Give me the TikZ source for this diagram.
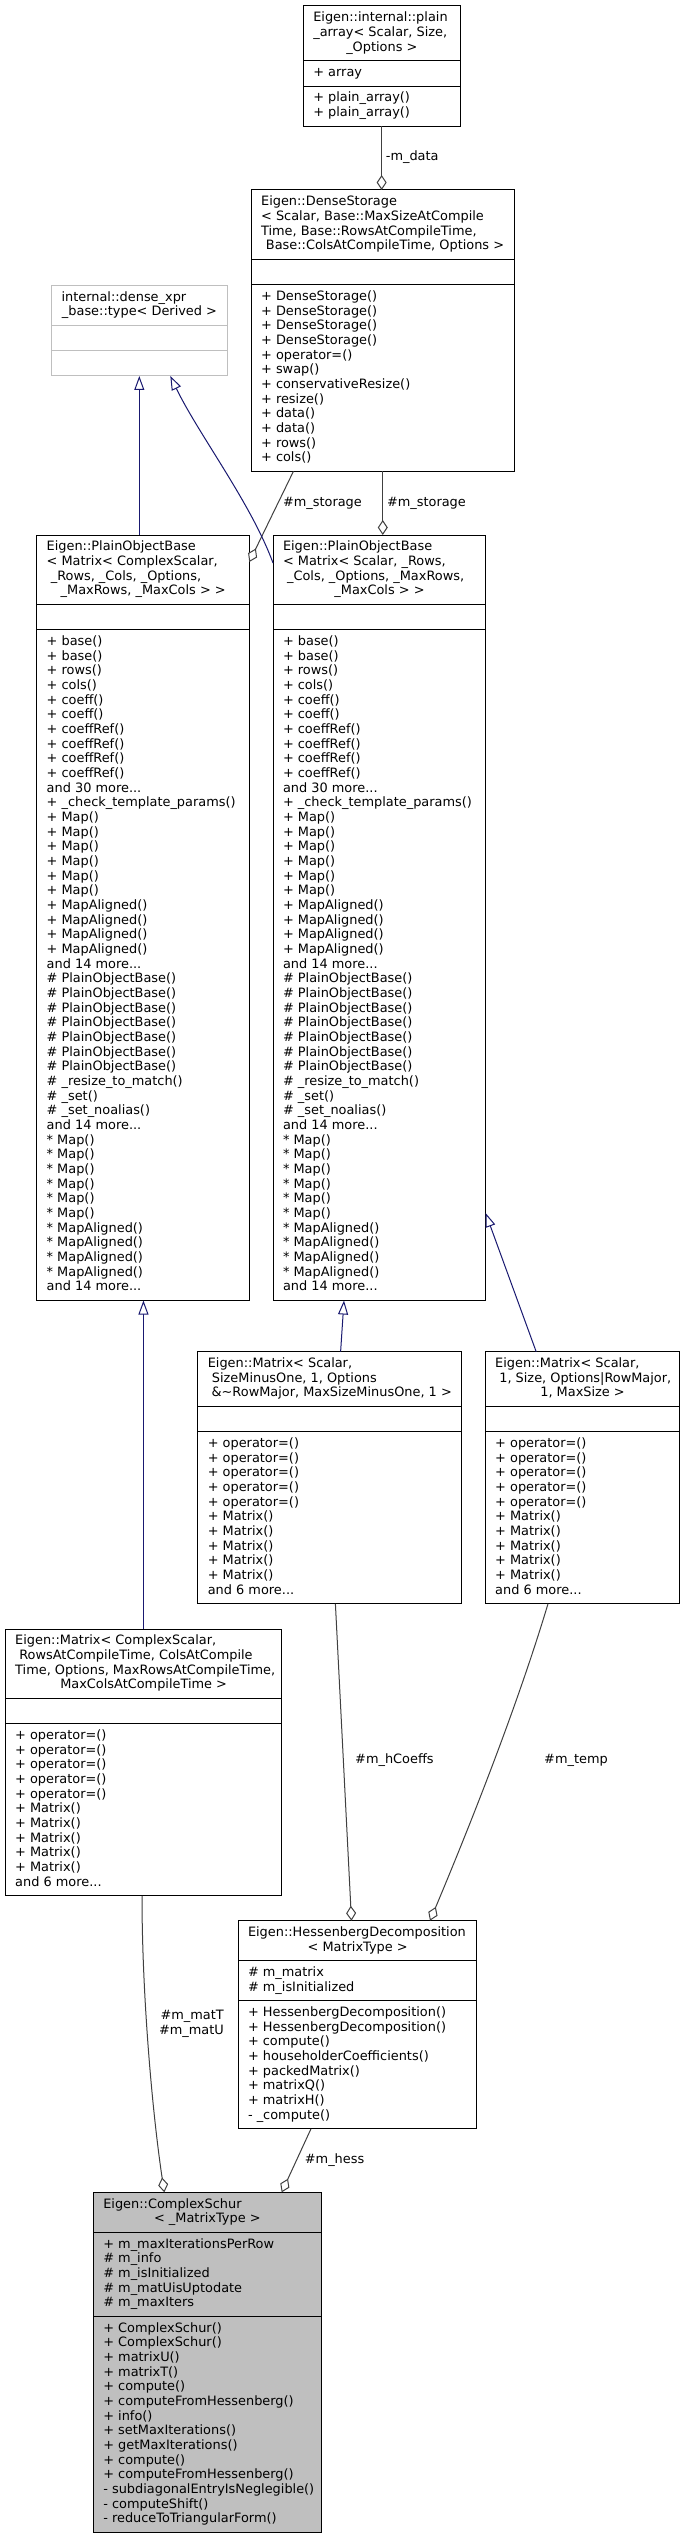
\documentclass[tikz,border=0pt]{standalone}
\usepackage{fontspec}
\setmainfont{DejaVu Sans}
\usetikzlibrary{arrows.meta,calc}
\definecolor{navy}{HTML}{191970}
\definecolor{greyA}{HTML}{404040}
\definecolor{greyB}{HTML}{BFBFBF}
\newcommand\dfont{\fontsize{12.9pt}{14.67pt}\selectfont}
\newcommand\LH{14.67}
\newcommand\PD{10.67}
\newcommand\PX{9.8}
\newcommand\PY{5.33}
\newcommand\lsp{\hspace*{4.1pt}}
\newcommand\umlclass[8]{%
  \pgfmathsetmacro\hA{#5*\LH+\PD}%
  \pgfmathsetmacro\hB{#6*\LH+\PD}%
  \pgfmathsetmacro\hC{#7*\LH+\PD}%
  \pgfmathsetmacro\hT{\hA+\hB+\hC}%
  \pgfmathsetmacro\twd{#4-2*\PX}%
  \node[#8, minimum width=#4pt, minimum height=\hT pt, anchor=north west] (#1) at (#2,#3) {};
  \draw[#8, fill=none] ($(#1.north west)+(0,\hA)$) -- ++(#4,0);
  \draw[#8, fill=none] ($(#1.north west)+(0,\hA+\hB)$) -- ++(#4,0);
  \coordinate (#1-s1) at ($(#1.north west)+(\PX,\PY)$);
  \coordinate (#1-s2) at ($(#1.north west)+(\PX,\hA+\PY)$);
  \coordinate (#1-s3) at ($(#1.north west)+(\PX,\hA+\hB+\PY)$);
}
\newcommand\pobmeth{\strut + base()\\ + base()\\ + rows()\\ + cols()\\ + coeff()\\ + coeff()\\ + coeffRef()\\ + coeffRef()\\ + coeffRef()\\ + coeffRef()\\ and 30 more...\\ + \_check\_template\_params()\\ + Map()\\ + Map()\\ + Map()\\ + Map()\\ + Map()\\ + Map()\\ + MapAligned()\\ + MapAligned()\\ + MapAligned()\\ + MapAligned()\\ and 14 more...\\ \# PlainObjectBase()\\ \# PlainObjectBase()\\ \# PlainObjectBase()\\ \# PlainObjectBase()\\ \# PlainObjectBase()\\ \# PlainObjectBase()\\ \# PlainObjectBase()\\ \# \_resize\_to\_match()\\ \# \_set()\\ \# \_set\_noalias()\\ and 14 more...\\ {*} Map()\\ {*} Map()\\ {*} Map()\\ {*} Map()\\ {*} Map()\\ {*} Map()\\ {*} MapAligned()\\ {*} MapAligned()\\ {*} MapAligned()\\ {*} MapAligned()\\ and 14 more...}
\newcommand\matmeth{\strut + operator=()\\ + operator=()\\ + operator=()\\ + operator=()\\ + operator=()\\ + Matrix()\\ + Matrix()\\ + Matrix()\\ + Matrix()\\ + Matrix()\\ and 6 more...}
\begin{document}
\begin{tikzpicture}[x=1pt,y=-1pt,
  cls/.style={draw=black, line width=1pt, fill=white, inner sep=0pt, outer sep=0pt},
  clsg/.style={draw=greyB, line width=1pt, fill=white, inner sep=0pt, outer sep=0pt},
  clsm/.style={draw=black, line width=1pt, fill=greyB, inner sep=0pt, outer sep=0pt},
  ctext/.style={inner sep=0pt, align=left, font=\dfont, anchor=north west},
  lbl/.style={inner sep=0pt, font=\dfont},
  inh/.style={draw=navy, line width=1pt, -{Triangle[open, length=14pt, width=10pt, fill=white]}},
  agg/.style={draw=greyA, line width=1pt, -{Diamond[open, length=15pt, width=10pt, fill=white]}}]
\fill[white] (0,0) rectangle (683,2539);
\useasboundingbox (0,0) rectangle (683,2539);

% plain_array
\umlclass{pa}{303.3}{6}{156.7}{3}{1}{2}{cls}
\node[ctext] (pa-t) at (pa-s1) {\strut Eigen::internal::plain\\ \_array< Scalar, Size,\\ \makebox[\twd pt][c]{\_Options >}};
\node[ctext] (pa-a) at (pa-s2) {\strut + array};
\node[ctext] (pa-m) at (pa-s3) {\strut + plain\_array()\\ + plain\_array()};

% DenseStorage
\umlclass{ds}{251.1}{190}{263.3}{4}{1}{12}{cls}
\node[ctext] (ds-t) at (ds-s1) {\strut Eigen::DenseStorage\\ < Scalar, Base::MaxSizeAtCompile\\ Time, Base::RowsAtCompileTime,\\ \makebox[\twd pt][c]{\lsp Base::ColsAtCompileTime, Options >}};
\node[ctext] (ds-m) at (ds-s3) {\strut + DenseStorage()\\ + DenseStorage()\\ + DenseStorage()\\ + DenseStorage()\\ + operator=()\\ + swap()\\ + conservativeResize()\\ + resize()\\ + data()\\ + data()\\ + rows()\\ + cols()};

% dense_xpr_base
\umlclass{dx}{51.5}{285.3}{175.6}{2}{1}{1}{clsg}
\node[ctext] (dx-t) at (dx-s1) {\strut internal::dense\_xpr\\ \makebox[\twd pt][c]{\_base::type< Derived >}};

% PlainObjectBase left
\umlclass{pobL}{36.7}{535}{212.6}{4}{1}{45}{cls}
\node[ctext] (pobL-t) at (pobL-s1) {\strut Eigen::PlainObjectBase\\ < Matrix< ComplexScalar,\\ \lsp\_Rows, \_Cols, \_Options,\\ \makebox[\twd pt][c]{\_MaxRows, \_MaxCols > >}};
\node[ctext] (pobL-m) at (pobL-s3) {\pobmeth};

% PlainObjectBase right
\umlclass{pobR}{273}{535}{212.6}{4}{1}{45}{cls}
\node[ctext] (pobR-t) at (pobR-s1) {\strut Eigen::PlainObjectBase\\ < Matrix< Scalar, \_Rows,\\ \lsp\_Cols, \_Options, \_MaxRows,\\ \makebox[\twd pt][c]{\_MaxCols > >}};
\node[ctext] (pobR-m) at (pobR-s3) {\pobmeth};

% Matrix SizeMinusOne
\umlclass{m1}{197.8}{1351.7}{263.3}{3}{1}{11}{cls}
\node[ctext] (m1-t) at (m1-s1) {\strut Eigen::Matrix< Scalar,\\ \lsp SizeMinusOne, 1, Options\\ \makebox[\twd pt][c]{\lsp\&\textasciitilde RowMajor, MaxSizeMinusOne, 1 >}};
\node[ctext] (m1-m) at (m1-s3) {\matmeth};

% Matrix 1, Size
\umlclass{m2}{485.2}{1351.7}{194.3}{3}{1}{11}{cls}
\node[ctext] (m2-t) at (m2-s1) {\strut Eigen::Matrix< Scalar,\\ \lsp 1, Size, Options|RowMajor,\\ \makebox[\twd pt][c]{1, MaxSize >}};
\node[ctext] (m2-m) at (m2-s3) {\matmeth};

% Matrix ComplexScalar
\umlclass{m3}{5.2}{1629}{276.5}{4}{1}{11}{cls}
\node[ctext] (m3-t) at (m3-s1) {\strut Eigen::Matrix< ComplexScalar,\\ \lsp RowsAtCompileTime, ColsAtCompile\\ Time, Options, MaxRowsAtCompileTime,\\ \makebox[\twd pt][c]{MaxColsAtCompileTime >}};
\node[ctext] (m3-m) at (m3-s3) {\matmeth};

% HessenbergDecomposition
\umlclass{hd}{238}{1920.7}{238.9}{2}{2}{8}{cls}
\node[ctext] (hd-t) at (hd-s1) {\strut Eigen::HessenbergDecomposition\\ \makebox[\twd pt][c]{< MatrixType >}};
\node[ctext] (hd-a) at (hd-s2) {\strut\# m\_matrix\\ \# m\_isInitialized};
\node[ctext] (hd-m) at (hd-s3) {\strut + HessenbergDecomposition()\\ + HessenbergDecomposition()\\ + compute()\\ + householderCoefficients()\\ + packedMatrix()\\ + matrixQ()\\ + matrixH()\\ - \_compute()};

% ComplexSchur
\umlclass{cs}{93.3}{2192.3}{227.7}{2}{5}{14}{clsm}
\node[ctext] (cs-t) at (cs-s1) {\strut Eigen::ComplexSchur\\ \makebox[\twd pt][c]{< \_MatrixType >}};
\node[ctext] (cs-a) at (cs-s2) {\strut + m\_maxIterationsPerRow\\ \# m\_info\\ \# m\_isInitialized\\ \# m\_matUisUptodate\\ \# m\_maxIters};
\node[ctext] (cs-m) at (cs-s3) {\strut + ComplexSchur()\\ + ComplexSchur()\\ + matrixU()\\ + matrixT()\\ + compute()\\ + computeFromHessenberg()\\ + info()\\ + setMaxIterations()\\ + getMaxIterations()\\ + compute()\\ + computeFromHessenberg()\\ - subdiagonalEntryIsNeglegible()\\ - computeShift()\\ - reduceToTriangularForm()};

% connectors
\draw[agg] (pa.south) -- (pa.south |- ds.north);
\draw[agg] ($(ds.south west)+(42.3,0)$) -- ($(pobL.north east)+(0,27)$);
\draw[agg] (ds.south) -- (ds.south |- pobR.north);
\draw[inh] (dx.south |- pobL.north) -- (dx.south);
\draw[inh] ($(pobR.north west)+(0,28)$) .. controls +(-22,-60) and +(28,58) .. ($(dx.south west)+(118.8,0)$);
\draw[inh] (m3.north) -- (m3.north |- pobL.south);
\draw[inh] ($(m1.north west)+(142.8,0)$) -- ($(pobR.south west)+(71,0)$);
\draw[inh] ($(m2.north west)+(51,0)$) -- ($(pobR.north east)+(0,678)$);
\draw[agg] ($(m1.south west)+(137.6,0)$) -- ($(hd.north west)+(113.5,0)$);
\draw[agg] ($(m2.south west)+(62.8,0)$) .. controls +(-30,100) and +(42,-100) .. ($(hd.north west)+(192,0)$);
\draw[agg] ($(m3.south west)+(136.8,0)$) .. controls +(0,100) and +(-12,-80) .. ($(cs.north west)+(71,0)$);
\draw[agg] ($(hd.south west)+(73,0)$) -- ($(cs.north west)+(188.4,0)$);

% labels
\node[lbl, anchor=west] (l-data) at ($(pa.south)+(4,30.7)$) {-m\_data};
\node[lbl, anchor=west] (l-st1) at ($(ds.south west)+(31.7,31.7)$) {\#m\_storage};
\node[lbl, anchor=west] (l-st2) at ($(ds.south west)+(135.7,31.7)$) {\#m\_storage};
\node[lbl, anchor=west] (l-hc) at ($(m1.south west)+(157.2,156.7)$) {\#m\_hCoeffs};
\node[lbl, anchor=west] (l-tmp) at ($(m2.south west)+(58.8,156.7)$) {\#m\_temp};
\node[lbl, anchor=east, align=right] (l-mat) at ($(m3.south west)+(218.8,128.3)$) {\#m\_matT\\\#m\_matU};
\node[lbl, anchor=west] (l-hess) at ($(hd.south west)+(66.7,31)$) {\#m\_hess};
\end{tikzpicture}
\end{document}
